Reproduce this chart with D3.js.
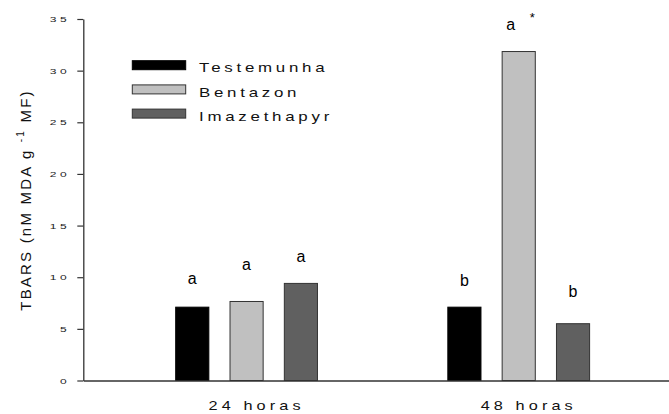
<!DOCTYPE html>
<html>
<head>
<meta charset="utf-8">
<script src="https://cdn.jsdelivr.net/npm/d3@7"></script>
<style>
  html, body { margin: 0; padding: 0; background: #fff; }
  svg { display: block; font-family: "Liberation Sans", Arial, sans-serif; }
</style>
</head>
<body>
<svg id="chart" width="669" height="414"></svg>
<script>
// ---- data ----
const groups = ["24 horas", "48 horas"];
const series = ["Testemunha", "Bentazon", "Imazethapyr"];
const values24 = [7.1, 7.65, 9.4];
const values48 = [7.1, 31.85, 5.5];
const letters24 = ["a", "a", "a"];
const letters48 = ["b", "a", "b"];
const marks24 = ["", "", ""];
const marks48 = ["", "*", ""];
const letterAt24 = [9.33, 10.68, 11.51];
const letterAt48 = [9.13, 33.9, 8.07];
const yTicks = [0, 5, 10, 15, 20, 25, 30, 35];
const colors = ["#000000", "#c0c0c0", "#606060"];

const rows = [
  { group: groups[0], values: values24, letters: letters24, marks: marks24, at: letterAt24 },
  { group: groups[1], values: values48, letters: letters48, marks: marks48, at: letterAt48 }
];

// ---- layout ----
const W = 669, H = 414;
const mLeft = 83.3, mBottom = 380.5, mTop = 19;
const svg = d3.select("#chart");
svg.append("rect").attr("width", W).attr("height", H).attr("fill", "#fff");

const y = d3.scaleLinear().domain([0, 35]).range([mBottom, mTop]);
const x0 = d3.scaleBand().domain(groups).range([mLeft, 682]).paddingInner(0).paddingOuter(0.1);
const x1 = d3.scaleBand().domain(series).range([0, x0.bandwidth()]).paddingInner(0.39).paddingOuter(1.2);
const color = d3.scaleOrdinal().domain(series).range(colors);

// bars
const g = svg.selectAll("g.grp").data(rows).join("g")
  .attr("class", "grp")
  .attr("transform", d => `translate(${x0(d.group)},0)`);

g.selectAll("rect").data(d => series.map((s, i) => ({ s, v: d.values[i] })))
  .join("rect")
  .attr("x", d => x1(d.s))
  .attr("width", x1.bandwidth())
  .attr("y", d => y(d.v))
  .attr("height", d => y(0) - y(d.v))
  .attr("fill", d => color(d.s))
  .attr("stroke", d => d.s === series[0] ? "#000" : "#333")
  .attr("stroke-width", 1);

// letters
g.selectAll("text.let").data(d => series.map((s, i) => ({ s, l: d.letters[i], m: d.marks[i], at: d.at[i] })))
  .join("text")
  .attr("class", "let")
  .attr("x", d => x1(d.s) + x1.bandwidth() / 2 + (d.m ? -8 : 0))
  .attr("y", d => y(d.at))
  .attr("text-anchor", "middle")
  .attr("font-size", 16)
  .attr("fill", "#000")
  .text(d => d.l);

g.selectAll("text.mark").data(d => series.map((s, i) => ({ s, m: d.marks[i], at: d.at[i] })).filter(d => d.m))
  .join("text")
  .attr("class", "mark")
  .attr("x", d => x1(d.s) + x1.bandwidth() / 2 + 13.5)
  .attr("y", d => y(d.at) - 8.7)
  .attr("text-anchor", "middle")
  .attr("font-size", 13)
  .attr("fill", "#000")
  .text(d => d.m);

// y axis
const ySx = 1.5;
const yAxis = svg.append("g")
  .attr("transform", `translate(${mLeft},0)`)
  .call(d3.axisLeft(y).tickValues(yTicks).tickSize(6).tickSizeOuter(0).tickPadding(7));
yAxis.select(".domain").attr("stroke", "#333").attr("stroke-width", 1.3);
yAxis.selectAll(".tick line").attr("stroke", "#333").attr("stroke-width", 1.2);
yAxis.selectAll(".tick text")
  .attr("x", -13 / ySx)
  .attr("transform", `scale(${ySx},1)`)
  .attr("font-size", 8)
  .attr("letter-spacing", 2.4)
  .attr("fill", "#222")
  .attr("font-family", "Liberation Sans, Arial, sans-serif");

// x axis
const xSx = 1.25;
const xAxis = svg.append("g")
  .attr("transform", `translate(0,${mBottom})`)
  .call(d3.axisBottom(x0).tickSize(0).tickSizeOuter(0).tickPadding(20.3));
xAxis.select(".domain").attr("stroke", "#333").attr("stroke-width", 1.3);
xAxis.selectAll(".tick text")
  .attr("x", 10 / xSx)
  .attr("transform", `scale(${xSx},1)`)
  .attr("font-size", 13)
  .attr("letter-spacing", 3.3)
  .attr("fill", "#111")
  .attr("font-family", "Liberation Sans, Arial, sans-serif");

// y title
const title = svg.append("text")
  .attr("transform", "translate(31,200) rotate(-90)")
  .attr("text-anchor", "middle")
  .attr("font-size", 15)
  .attr("letter-spacing", 2.2)
  .attr("fill", "#111");
title.append("tspan").text("TBARS (nM MDA g ");
title.append("tspan").attr("dy", -7).attr("font-size", 10).text("-1");
title.append("tspan").attr("dy", 7).text("  MF)");

// legend
const lSx = 1.25;
const leg = svg.append("g").selectAll("g").data(series).join("g")
  .attr("transform", (d, i) => `translate(132.3,${60.7 + i * 24.2})`);
leg.append("rect")
  .attr("width", 53.4).attr("height", 9)
  .attr("fill", d => color(d))
  .attr("stroke", d => d === series[0] ? "#000" : "#333")
  .attr("stroke-width", 1);
leg.append("text")
  .attr("transform", `translate(66.7,11.6) scale(${lSx},1)`)
  .attr("font-size", 13.5)
  .attr("letter-spacing", 3.0)
  .attr("fill", "#111")
  .text(d => d);
</script>
</body>
</html>
